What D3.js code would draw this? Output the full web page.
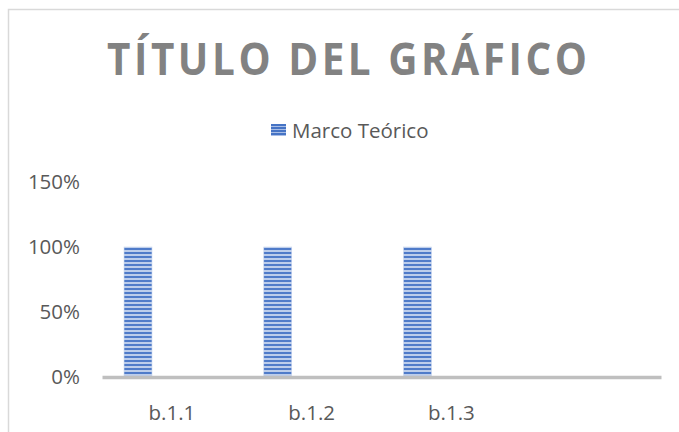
<!DOCTYPE html>
<html>
<head>
<meta charset="utf-8">
<script src="https://cdn.jsdelivr.net/npm/d3@7"></script>
<style>
  html, body { margin: 0; padding: 0; background: #ffffff; }
  svg { display: block; }
</style>
</head>
<body>
<script>
// Chart data
const categories = ["b.1.1", "b.1.2", "b.1.3", ""];
const seriesName = "Marco Teórico";
const values = [1, 1, 1, null];
const yTicks = [0, 0.5, 1, 1.5];
const titleText = "TÍTULO DEL GRÁFICO";

const W = 679, H = 432;
const svg = d3.select("body").append("svg").attr("width", W).attr("height", H);

// Horizontal stripe fill used for the bars and the legend key
const defs = svg.append("defs");
const pat = defs.append("pattern")
  .attr("id", "stripes").attr("patternUnits", "userSpaceOnUse")
  .attr("width", 8).attr("height", 4);
pat.append("rect").attr("width", 8).attr("height", 4).attr("fill", "#bccdeb");
pat.append("rect").attr("y", 0).attr("width", 8).attr("height", 2).attr("fill", "#4f7bc9");

const patSmall = defs.append("pattern")
  .attr("id", "stripesSmall").attr("patternUnits", "userSpaceOnUse")
  .attr("width", 8).attr("height", 3);
patSmall.append("rect").attr("width", 8).attr("height", 3).attr("fill", "#a9bee6");
patSmall.append("rect").attr("width", 8).attr("height", 2).attr("fill", "#4674c5");

// Chart frame
svg.append("path")
  .attr("d", `M8.5,${H} V9.5 H${W}`)
  .attr("fill", "none").attr("stroke", "#d9d9d9").attr("stroke-width", 1.5);

// Title: slightly condensed glyphs with wide tracking
const titleScale = 0.92;
svg.append("g").attr("transform", `translate(347,75) scale(${titleScale},1)`)
  .append("text")
  .attr("text-anchor", "middle")
  .attr("font-family", "'Open Sans', sans-serif")
  .attr("font-weight", 700).attr("font-size", 44)
  .attr("fill", "#828282")
  .attr("textLength", 480 / titleScale).attr("lengthAdjust", "spacing")
  .text(titleText);

// Legend
const legend = svg.append("g").attr("transform", "translate(271,124)");
legend.append("rect").attr("width", 15).attr("height", 12).attr("fill", "url(#stripesSmall)");
legend.append("text")
  .attr("x", 21).attr("y", 13.5)
  .attr("font-family", "'Open Sans', sans-serif").attr("font-size", 20.5)
  .attr("fill", "#595959").text(seriesName);

// Scales
const plotLeft = 102, plotRight = 661;
const x = d3.scaleBand().domain(categories).range([plotLeft, plotRight]).padding(0);
const inner = d3.scaleBand().domain([seriesName]).range([0, x.bandwidth()])
  .paddingInner(0).paddingOuter(2).align(0.197);
const y = d3.scaleLinear().domain([0, 1.5]).range([377, 182]);

// Y tick labels (no gridlines)
svg.append("g").selectAll("text").data(yTicks).join("text")
  .attr("x", 80).attr("y", d => y(d)).attr("dy", "0.36em")
  .attr("text-anchor", "end")
  .attr("font-family", "'Open Sans', sans-serif").attr("font-size", 20.5)
  .attr("fill", "#595959")
  .text(d => d3.format(".0%")(d));

// Bars
const barData = categories.map((c, i) => ({ c, v: values[i] })).filter(d => d.v != null);
svg.append("g").selectAll("rect").data(barData).join("rect")
  .attr("x", d => x(d.c) + inner(seriesName))
  .attr("y", d => y(d.v))
  .attr("width", inner.bandwidth())
  .attr("height", d => y(0) - y(d.v))
  .attr("fill", "url(#stripes)")
  .attr("stroke", "#c9d6ef").attr("stroke-width", 0.6);

// Category axis
const xAxis = svg.append("g").attr("transform", `translate(0,${y(0)})`)
  .call(d3.axisBottom(x).tickSize(0).tickPadding(0));
xAxis.select(".domain").attr("stroke", "#bfbfbf").attr("stroke-width", 3.5);
xAxis.selectAll(".tick text")
  .attr("y", 43).attr("dy", 0)
  .attr("font-family", "'Open Sans', sans-serif").attr("font-size", 20.5)
  .attr("fill", "#595959");
</script>
</body>
</html>
